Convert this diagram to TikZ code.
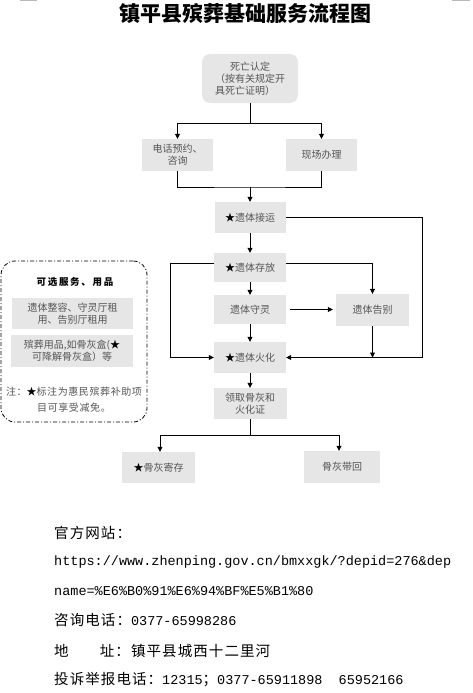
\documentclass[tikz,border=0pt]{standalone}
\usepackage{fontspec}
\setmainfont{Noto Sans CJK SC}
\newfontfamily\monofnt{Liberation Mono}
\newfontfamily\widefnt{Noto Sans CJK SC}[LetterSpace=7.5]
\newfontfamily\notefnt{Noto Sans CJK SC}[LetterSpace=6]
\newfontfamily\optfnt{Noto Sans CJK SC}[LetterSpace=18]
\usetikzlibrary{arrows.meta}
\definecolor{boxfill}{HTML}{E6E6E6}
\definecolor{boxtext}{HTML}{555555}
\newcommand{\bstar}{{\color{black}★}}
\tikzset{
  box/.style={fill=boxfill, text=boxtext, inner sep=0pt, align=center, font=\fontsize{10}{12}\selectfont},
  ln/.style={line width=0.8pt, draw=black},
  arr/.style={ln, -{Triangle[length=5pt,width=5pt]}},
  info/.style={anchor=west, inner sep=0pt, text=black},
}
\begin{document}
\begin{tikzpicture}[x=1pt,y=-1pt]
\useasboundingbox (0,0) rectangle (473,693);
% crop marks
\draw[gray!55, line width=1pt] (20,0.5) -- (37,0.5);
\draw[gray!55, line width=1pt] (452,0.5) -- (470,0.5);
% title
\node[inner sep=0pt, font=\fontsize{21}{21}\selectfont\bfseries] (title) at (245,14) {镇平县殡葬基础服务流程图};
% main boxes
\node[box, rounded corners=8pt, minimum width=96pt, minimum height=49pt] (death) at (250,78.5) {死亡认定\\（按有关规定开\\具死亡证明）\hphantom{开}};
\node[box, minimum width=71pt, minimum height=32pt] (phone) at (177.5,155) {电话预约、\\咨询};
\node[box, minimum width=71pt, minimum height=32pt] (site) at (321.5,155) {现场办理};
\node[box, minimum width=71pt, minimum height=31pt] (transport) at (250,217.5) {\bstar 遗体接运};
\node[box, minimum width=72pt, minimum height=29pt] (store) at (250,267.5) {\bstar 遗体存放};
\node[box, minimum width=72pt, minimum height=29pt] (vigil) at (250,309.5) {遗体守灵};
\node[box, minimum width=73pt, minimum height=32pt] (farewell) at (372.5,310) {遗体告别};
\node[box, minimum width=72pt, minimum height=31pt] (cremate) at (250,357.5) {\bstar 遗体火化};
\node[box, minimum width=73pt, minimum height=31pt] (collect) at (250,403.5) {领取骨灰和\\火化证};
\node[box, minimum width=73pt, minimum height=31pt] (deposit) at (158.5,467.5) {\bstar 骨灰寄存};
\node[box, minimum width=76pt, minimum height=32pt] (home) at (342,467) {骨灰带回};
% connectors
\coordinate (j1) at (250,123);
\coordinate (j2) at (250,187);
\coordinate (j4) at (250,435);
\coordinate (rx) at (422,216);
\coordinate (lx) at (170,263);
\draw[ln] (death.south) -- (j1);
\draw[arr] (j1) -| (phone.north);
\draw[arr] (j1) -| (site.north);
\draw[ln] (phone.south) |- (j2) -| (site.south);
\draw[arr] (j2) -- (transport.north);
\draw[arr] (transport.south) -- (store.north);
\draw[arr] (store.south) -- (vigil.north);
\draw[arr] (vigil.south) -- (cremate.north);
\draw[arr] (cremate.south) -- (collect.north);
\draw[arr, shorten <=4pt, shorten >=3pt] (vigil.east) -- (vigil.east -| farewell.west);
\draw[arr] (transport.east) -| (rx |- cremate.east) -- (cremate.east);
\draw[arr] ([yshift=4pt]store.west) -| (lx |- cremate.west) -- (cremate.west);
\draw[arr] ([yshift=4pt]store.east) -| (farewell.north);
\draw[arr] (farewell.south) -- (farewell.south |- cremate.east);
\draw[ln] (collect.south) -- (j4);
\draw[arr] (j4) -| ([xshift=1.5pt]deposit.north);
\draw[arr] (j4) -| ([xshift=-3pt]home.north);
% optional services box
\node[draw, line width=0.8pt, dash pattern=on 4pt off 2pt on 1pt off 2pt, rounded corners=14pt, minimum width=146pt, minimum height=161pt, inner sep=0pt] (opt) at (74,341.5) {};
\node[inner sep=0pt, font=\optfnt\fontsize{9.5}{11}\selectfont\bfseries] (opttitle) at (75,282) {可选服务、用品};
\node[box, minimum width=121pt, minimum height=31pt] (opt1) at (72.5,313.5) {遗体整容、守灵厅租\\用、告别厅租用};
\node[box, minimum width=122pt, minimum height=32pt] (opt2) at (72,351) {殡葬用品,如骨灰盒(\bstar\\可降解骨灰盒）等};
\node[inner sep=0pt, text=boxtext, align=center, font=\notefnt\fontsize{10}{16}\selectfont] (note) at (74,400) {注：\bstar 标注为惠民殡葬补助项\\目可享受减免。};
% contact info
\node[info, font=\widefnt\fontsize{14.5}{16}\selectfont] (web) at (54,533) {官方网站：};
\node[info, font=\monofnt\fontsize{13.5}{16}\selectfont] (url1) at (54,562) {https://www.zhenping.gov.cn/bmxxgk/?depid=276\&dep};
\node[info, font=\monofnt\fontsize{13.5}{16}\selectfont] (url2) at (54,591) {name=\%E6\%B0\%91\%E6\%94\%BF\%E5\%B1\%80};
\node[info, font=\widefnt\fontsize{14.5}{16}\selectfont] (tel) at (54,620) {咨询电话：{\monofnt\fontsize{13.5}{16}\selectfont 0377-65998286}};
\node[info, font=\widefnt\fontsize{14.5}{16}\selectfont] (addr) at (54,651) {地\hspace{2.15em}址：镇平县城西十二里河};
\node[info, font=\widefnt\fontsize{14.5}{16}\selectfont] (report) at (54,680) {投诉举报电话：{\monofnt\fontsize{13.5}{16}\selectfont 12315}；{\monofnt\fontsize{13.5}{16}\selectfont 0377-65911898\ \ 65952166}};
\end{tikzpicture}
\end{document}
